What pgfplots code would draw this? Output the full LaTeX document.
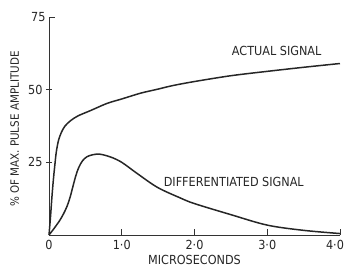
\documentclass[border=0pt]{standalone}
\usepackage{pgfplots}
\pgfplotsset{compat=1.18}
\usepackage{fontspec}
\setmainfont{DejaVu Sans Condensed}
\begin{document}
\begin{tikzpicture}
\useasboundingbox (-49pt,-33pt) rectangle (297pt,235pt);
\begin{axis}[
  at={(0pt,0pt)}, anchor=origin,
  scale only axis, width=291pt, height=218pt,
  xmin=0, xmax=4, ymin=0, ymax=75,
  axis x line=bottom, axis y line=left,
  axis line style={line width=0.9pt, color=black!80, -},
  xtick={0,1,2,3}, xticklabels={0,1·0,2·0,3·0},
  extra x ticks={4}, extra x tick labels={4·0},
  extra x tick style={xticklabel style={xshift=-5pt}},
  ytick={25,50}, yticklabels={25,50},
  extra y ticks={75}, extra y tick labels={75},
  extra y tick style={tick align=inside},
  x tick style={line width=0.9pt, color=black!80},
  y tick style={line width=0.9pt, color=black!80},
  ytick align=center, xtick align=inside,
  major tick length=6pt,
  tick label style={font=\fontsize{12.5}{13}\selectfont, text=black!85},
  xticklabel style={yshift=-2pt},
  clip=false,
]
\addplot[black!85, line width=1.5pt, smooth, tension=0.5] coordinates {
(0,0)(0.02,6)(0.04,13)(0.06,19)(0.08,24)(0.1,28.5)(0.13,32.5)(0.17,35.3)(0.22,37.5)(0.3,39.4)(0.4,41)(0.57,42.8)(0.8,45.3)(1.0,46.8)(1.26,48.8)(1.5,50.2)(1.7,51.4)(2.0,52.8)(2.5,54.8)(3.0,56.3)(3.5,57.7)(4.0,59)
};
\addplot[black!85, line width=1.5pt, smooth, tension=0.55] coordinates {
(0,0)(0.05,1.6)(0.1,3.3)(0.15,5.1)(0.2,7.3)(0.25,10)(0.29,13)(0.33,16.8)(0.37,20.5)(0.41,23.3)(0.46,25.5)(0.52,26.9)(0.6,27.6)(0.7,27.8)(0.85,26.8)(1.0,25)(1.21,21.2)(1.49,16.4)(1.8,12.8)(2.0,10.8)(2.5,7.0)(3.0,3.4)(3.5,1.6)(4.0,0.5)
};
\node[font=\fontsize{12.5}{13}\selectfont, text=black!85] at (axis cs:3.13,63.3) {ACTUAL SIGNAL};
\node[font=\fontsize{12.5}{13}\selectfont, text=black!85] at (axis cs:2.54,18.4) {DIFFERENTIATED SIGNAL};
\node[font=\fontsize{12.5}{13}\selectfont, text=black!85] at (axis cs:2.0,-8.5) {MICROSECONDS};
\node[font=\fontsize{11.5}{12}\selectfont, text=black!85, rotate=90] at (axis cs:-0.47,36.4) {\% OF MAX. PULSE AMPLITUDE};
\end{axis}
\end{tikzpicture}
\end{document}
